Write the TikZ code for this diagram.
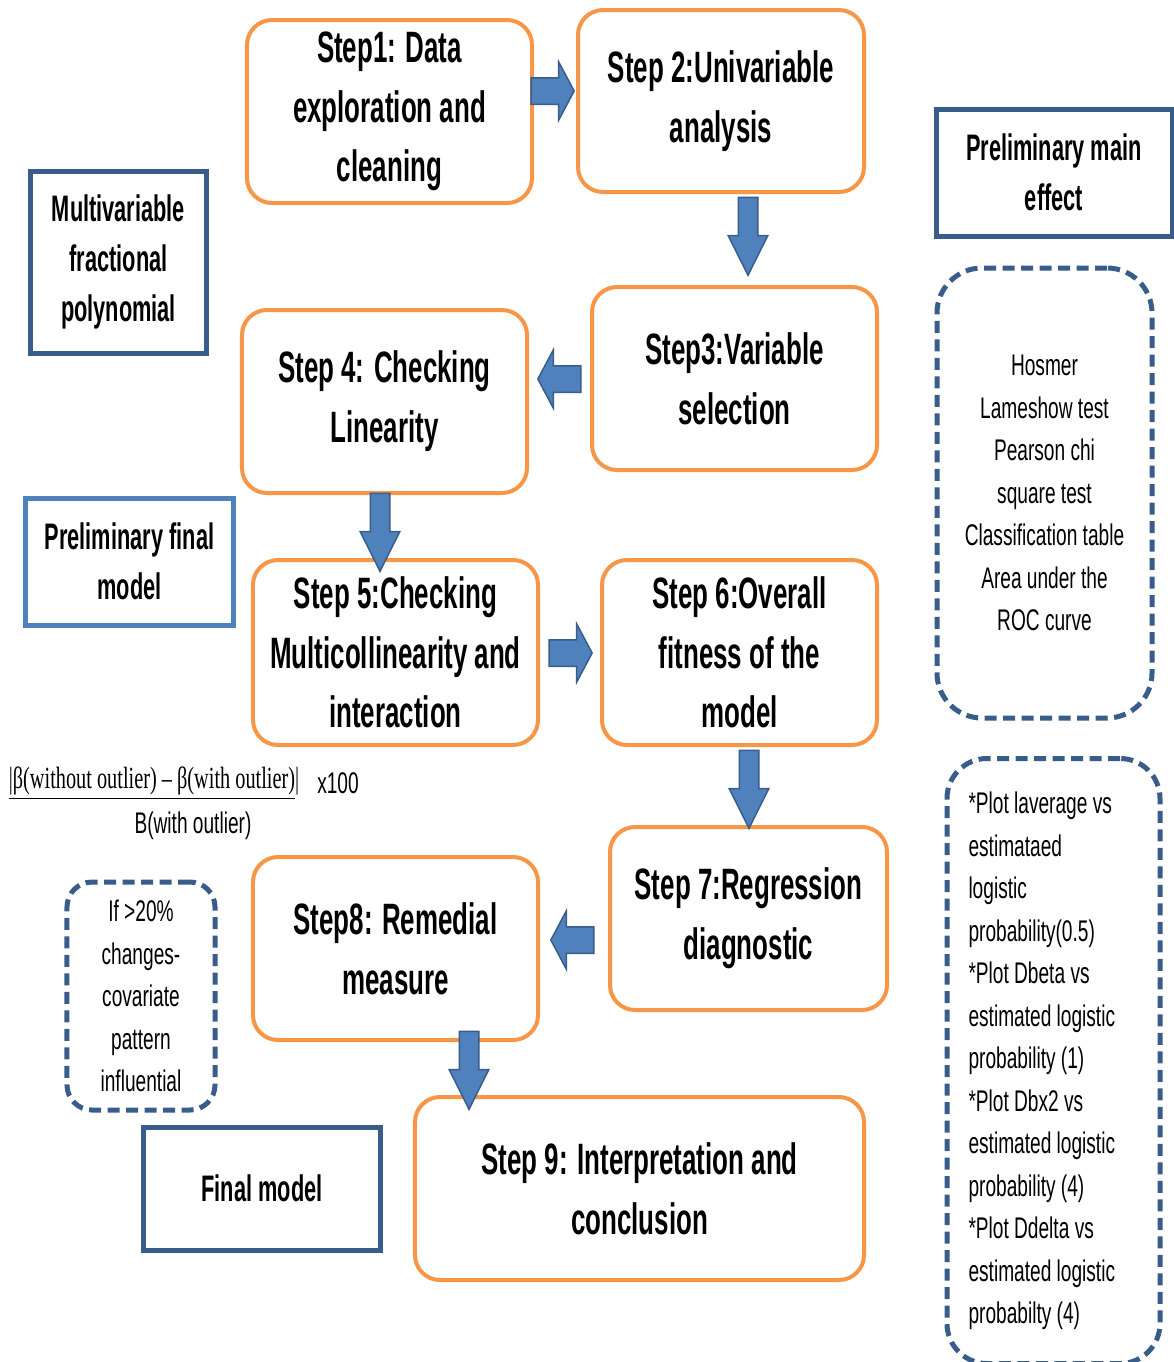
\documentclass[tikz,border=0pt]{standalone}
\usepackage{fontspec}
\usepackage{xcolor}
\usepackage{tikz}
\usetikzlibrary{shapes.arrows, positioning}
\newfontfamily\narrowsans[FakeStretch=0.64]{Liberation Sans}
\newfontfamily\narrowbold[FakeStretch=0.59]{Liberation Sans Bold}
\newfontfamily\narrowserif[FakeStretch=0.66]{Liberation Serif}
\definecolor{steporange}{HTML}{F79646}
\definecolor{boxblue}{HTML}{385D8A}
\definecolor{lightblue}{HTML}{4F81BD}
\tikzset{
    stepbox/.style={
        rectangle,
        rounded corners=5mm,
        draw=steporange,
        line width=0.8mm,
        fill=white,
        minimum width=57mm,
        minimum height=36.6mm,
        inner sep=1pt,
        align=center,
        font=\narrowbold\fontsize{25}{34}\selectfont
    },
    resultbox/.style={
        rectangle,
        draw=boxblue,
        line width=1mm,
        fill=white,
        inner sep=1pt,
        align=center,
        font=\narrowbold\fontsize{21}{28.5}\selectfont
    },
    notebox/.style={
        rectangle,
        rounded corners=8mm,
        draw=boxblue,
        line width=1mm,
        dash pattern=on 2.4mm off 1.3mm,
        fill=white,
        inner sep=1pt,
        align=center,
        font=\narrowsans\fontsize{17}{24.2}\selectfont
    },
    blockarrow/.style={
        single arrow,
        draw=boxblue,
        fill=lightblue,
        line width=0.3mm,
        inner xsep=0pt,
        text height=0pt,
        text depth=0pt,
        anchor=tip
    },
    harrow/.style={
        blockarrow,
        inner ysep=2.5mm,
        single arrow head extend=3.2mm,
        single arrow tip angle=124,
        minimum height=8.6mm
    },
    varrow/.style={
        blockarrow,
        inner ysep=1.8mm,
        single arrow head extend=2mm,
        single arrow tip angle=53,
        minimum height=15.6mm,
        rotate=-90
    },
    formula/.style={
        inner sep=0pt,
        font=\narrowsans\fontsize{17}{20}\selectfont
    }
}

\begin{document}
\begin{tikzpicture}[x=0.2mm, y=-0.2mm]

\useasboundingbox (0,0) rectangle (1174,1362);

% Analysis steps
\node[stepbox] (step1) at (389.5,111.5) {Step1: Data\\exploration and\\cleaning};
\node[stepbox, minimum width=57.2mm, minimum height=36.4mm] (step2) at (721,101) {Step 2:Univariable\\analysis};
\node[stepbox] (step3) at (734.5,378.5) {Step3:Variable\\selection};
\node[stepbox] (step4) at (384.5,401.5) {Step 4: Checking\\Linearity};
\node[stepbox, minimum height=37mm] (step5) at (395.5,652.5) {Step 5:Checking\\Multicollinearity and\\interaction};
\node[stepbox, minimum width=55mm, minimum height=37mm] (step6) at (739.5,652.5) {Step 6:Overall\\fitness of the\\model};
\node[stepbox, minimum width=55.4mm] (step7) at (748.5,918.5) {Step 7:Regression\\diagnostic};
\node[stepbox] (step8) at (395.5,948.5) {Step8: Remedial\\measure};
\node[stepbox, minimum width=89.8mm] (step9) at (639.5,1188.5) {Step 9: Interpretation and\\conclusion};

% Model stages
\node[resultbox, minimum width=35mm, minimum height=36.4mm] (mfp) at (118.5,262) {Multivariable\\fractional\\polynomial};
\node[resultbox, draw=lightblue, minimum width=41.4mm, minimum height=25.4mm] (prelimfinal) at (129.5,561.5) {Preliminary final\\model};
\node[resultbox, minimum width=47.2mm, minimum height=25.4mm] (prelimmain) at (1054,172.5) {Preliminary main\\effect};
\node[resultbox, minimum width=47.2mm, minimum height=24.6mm] (finalmodel) at (262,1188.5) {Final model};

% Notes
\node[notebox, rounded corners=9mm, minimum width=43mm, minimum height=90mm] (gofbox) at (1044.5,493)
    {Hosmer\\Lameshow test\\Pearson chi\\square test\\Classification table\\Area under the\\ROC curve};
\node[notebox, minimum width=42.6mm, minimum height=121mm, text width=34mm, align=flush left] (diagbox) at (1053.5,1061)
    {*Plot laverage vs\\estimataed\\logistic\\probability(0.5)\\{}*Plot Dbeta vs\\estimated logistic\\probability (1)\\{}*Plot Dbx2 vs\\estimated logistic\\probability (4)\\{}*Plot Ddelta vs\\estimated logistic\\probabilty (4)};
\node[notebox, rounded corners=5mm, minimum width=29.6mm, minimum height=45.6mm] (inflbox) at (141,996)
    {If >20\%\\changes-\\covariate\\pattern\\influential};

% Influence formula
\node[formula, font=\narrowserif\fontsize{17.5}{20}\selectfont] (fnum) at (154,783) {\underline{|β(without outlier) – β(with outlier)}|};
\node[formula] (ftimes) at (338,783) {x100};
\node[formula] (fden) at (193,826) {B(with outlier)};

% Block arrows
\node[harrow] (a12) at (575,91) {};
\node[varrow] (a23) at (748,277) {};
\node[harrow, rotate=180] (a34) at (537,379) {};
\node[varrow] (a45) at (380,573) {};
\node[harrow] (a56) at (593,653) {};
\node[varrow] (a67) at (749,830) {};
\node[harrow, rotate=180] (a78) at (550,940) {};
\node[varrow] (a89) at (469,1111) {};

\end{tikzpicture}
\end{document}
